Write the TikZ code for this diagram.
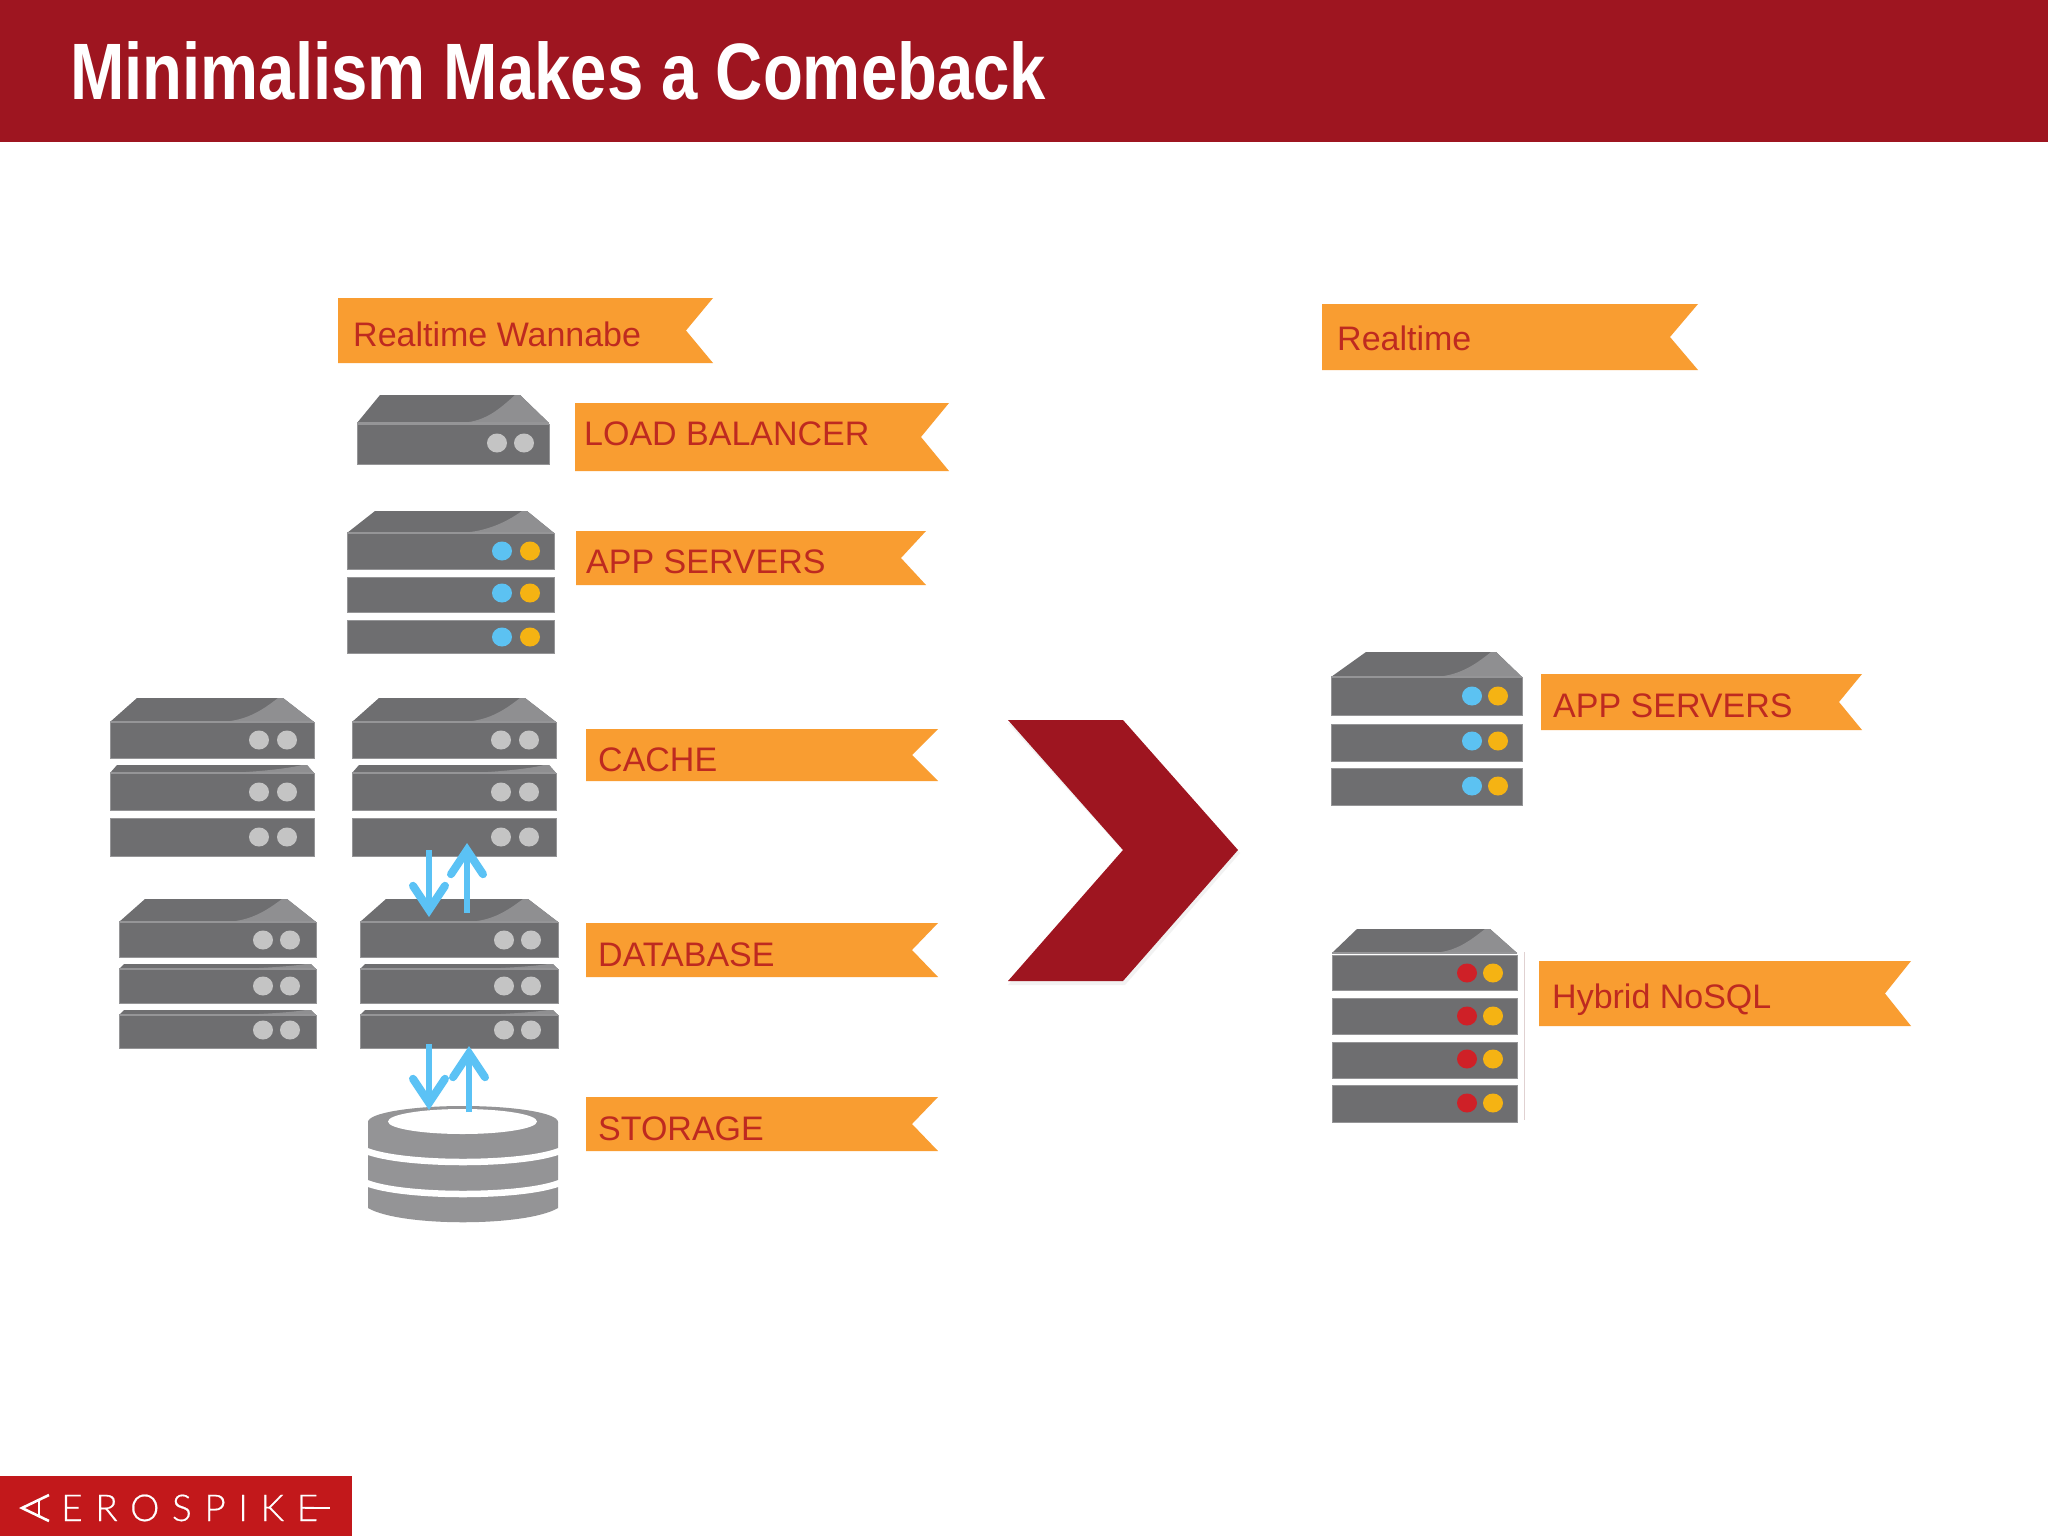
\documentclass[tikz,border=0pt]{standalone}
\usepackage{fontspec}
\setmainfont{Liberation Sans}
\newfontfamily\logofont[LetterSpace=34,FakeBold=0.5]{Lato Light}
\usetikzlibrary{arrows.meta}
\definecolor{barred}{HTML}{9E1520}
\definecolor{logored}{HTML}{C2181B}
\definecolor{ribbonor}{HTML}{F99D31}
\definecolor{ribbontx}{HTML}{BE2A20}
\definecolor{srvdark}{HTML}{6E6E70}
\definecolor{srvlight}{HTML}{8F8F91}
\definecolor{srvedge}{HTML}{959597}
\definecolor{ledgrey}{HTML}{C4C4C4}
\definecolor{ledblue}{HTML}{5CC2F2}
\definecolor{ledamber}{HTML}{F5B313}
\definecolor{ledred}{HTML}{CF2027}
\definecolor{flowblue}{HTML}{5BC2F5}
\definecolor{drumgrey}{HTML}{949496}
\tikzset{
  ribbonfill/.style={fill=ribbonor},
  ribbonlabel/.style={anchor=base west,inner sep=0pt,text=ribbontx,font=\fontsize{34}{40}\selectfont},
  srvbody/.style={fill=srvdark,draw=srvedge,line width=0.8pt},
  flowarrow/.style={draw=flowblue,line width=5.5pt,-{Straight Barb[length=24pt,width=32pt,line width=8pt,line cap=round]}},
}
% ribbon: name, x1, x2, notch x, y1, y2, text x, baseline y, text
\newcommand\ribbon[9]{%
  \fill[ribbonfill] (#2,#5) -- (#3,#5) -- (#4,{(#5+#6)/2}) -- (#3,#6) -- (#2,#6) -- cycle;
  \node[ribbonlabel] (#1) at (#7,#8) {#9};}
% unit body: x1, x2, y1, y2
\newcommand\unitbox[4]{\fill[srvbody] (#1,#3) rectangle (#2,#4);}
% sloped lid: x1, x2, xt1, xt2, yt, yb
\newcommand\lid[6]{%
  \fill[srvdark] (#1,#6) -- (#3,#5) -- (#4,#5) -- (#2,#6) -- cycle;
  \fill[srvlight] ({#4-5},#5) -- (#4,#5) -- (#2,#6) -- ({#1+0.52*(#2-#1)},#6)
     .. controls ({#1+0.66*(#2-#1)},#6) and ({#4-22},{#5+0.55*(#6-#5)}) .. ({#4-5},#5) -- cycle;
  \draw[srvedge,line width=2pt] (#1,#6) -- (#2,#6);}
% pair of lamps: x left, x right, y, colour left, colour right
\newcommand\lamps[5]{%
  \fill[#4] (#1,#3) ellipse [x radius=10,y radius=9.5];
  \fill[#5] (#2,#3) ellipse [x radius=10,y radius=9.5];}
\begin{document}
\begin{tikzpicture}[x=1pt,y=-1pt]
\useasboundingbox (0,0) rectangle (2048,1536);
\fill[white] (0,0) rectangle (2048,1536);
% title bar
\fill[barred] (0,0) rectangle (2048,142);
\node[anchor=base west,inner sep=0pt,text=white,font=\bfseries\fontsize{80}{90}\selectfont] (title) at (70,100) {\scalebox{0.816}[1]{Minimalism Makes a Comeback}};
% ribbons
\ribbon{rwanna}{338}{713}{686}{298}{363}{353}{346}{Realtime Wannabe}
\ribbon{rlb}{575}{949}{921}{403}{471}{584}{445}{LOAD BALANCER}
\ribbon{rapp}{576}{926}{901}{531}{585}{586}{573}{APP SERVERS}
\ribbon{rcache}{586}{938}{912}{729}{781}{598}{771}{CACHE}
\ribbon{rdb}{586}{938}{912}{923}{977}{598}{966}{DATABASE}
\ribbon{rstore}{586}{938}{912}{1097}{1151}{598}{1140}{STORAGE}
\ribbon{rreal}{1322}{1698}{1670}{304}{370}{1337}{350}{Realtime}
\ribbon{rappr}{1541}{1862}{1839}{674}{730}{1553}{717}{APP SERVERS}
\ribbon{rhyb}{1539}{1911}{1885}{961}{1026}{1552}{1008}{Hybrid NoSQL}
% load balancer
\unitbox{357}{549}{424}{464}
\lid{357}{549}{380}{520}{395}{423}
\lamps{497}{524}{443}{ledgrey}{ledgrey}
% app servers, left
\unitbox{347}{554}{533}{569}\unitbox{347}{554}{577}{612}\unitbox{347}{554}{620}{653}
\lid{347}{554}{375}{527}{511}{533}
\lamps{502}{530}{551}{ledblue}{ledamber}
\lamps{502}{530}{593}{ledblue}{ledamber}
\lamps{502}{530}{637}{ledblue}{ledamber}
% cache, left column
\unitbox{110}{314}{722}{758}\unitbox{110}{314}{773}{810}\unitbox{110}{314}{818}{856}
\lid{110}{314}{137}{283}{698}{722}
\lid{110}{314}{117}{307}{765}{773}
\lamps{259}{287}{740}{ledgrey}{ledgrey}
\lamps{259}{287}{792}{ledgrey}{ledgrey}
\lamps{259}{287}{837}{ledgrey}{ledgrey}
% cache, right column
\unitbox{352}{556}{722}{758}\unitbox{352}{556}{773}{810}\unitbox{352}{556}{818}{856}
\lid{352}{556}{379}{525}{698}{722}
\lid{352}{556}{359}{549}{765}{773}
\lamps{501}{529}{740}{ledgrey}{ledgrey}
\lamps{501}{529}{792}{ledgrey}{ledgrey}
\lamps{501}{529}{837}{ledgrey}{ledgrey}
% database, left column
\unitbox{119}{316}{922}{957}\unitbox{119}{316}{969}{1003}\unitbox{119}{316}{1015}{1048}
\lid{119}{316}{145}{287}{899}{922}
\lid{119}{316}{124}{311}{964}{969}
\lid{119}{316}{124}{311}{1010}{1015}
\lamps{263}{290}{940}{ledgrey}{ledgrey}
\lamps{263}{290}{986}{ledgrey}{ledgrey}
\lamps{263}{290}{1030}{ledgrey}{ledgrey}
% database, right column
\unitbox{360}{558}{922}{957}\unitbox{360}{558}{969}{1003}\unitbox{360}{558}{1015}{1048}
\lid{360}{558}{386}{528}{899}{922}
\lid{360}{558}{365}{553}{964}{969}
\lid{360}{558}{365}{553}{1010}{1015}
\lamps{504}{531}{940}{ledgrey}{ledgrey}
\lamps{504}{531}{986}{ledgrey}{ledgrey}
\lamps{504}{531}{1030}{ledgrey}{ledgrey}
% storage drum
\fill[drumgrey] (368,1122) -- (368,1208) .. controls (400,1227) and (526,1227) .. (558,1208) -- (558,1122) -- cycle;
\fill[drumgrey] (463,1122) ellipse [x radius=95,y radius=16];
\fill[white] (462.5,1121.5) ellipse [x radius=74.5,y radius=12.5];
\draw[white,line width=6.5pt] (364,1150) .. controls (400,1166) and (526,1166) .. (562,1150);
\draw[white,line width=6.5pt] (364,1182) .. controls (400,1198) and (526,1198) .. (562,1182);
% arrows between tiers
\coordinate (cachedown) at (429,850);
\coordinate (dbin) at (429,917);
\coordinate (dbup) at (467,913);
\coordinate (cacheup) at (467,843);
\coordinate (dbdown) at (429,1044);
\coordinate (drumin) at (429,1110);
\coordinate (drumup) at (469,1112);
\coordinate (dbinup) at (469,1046);
\draw[flowarrow] (cachedown) -- (dbin);
\draw[flowarrow] (dbup) -- (cacheup);
\draw[flowarrow] (dbdown) -- (drumin);
\draw[flowarrow] (drumup) -- (dbinup);
% chevron with its faint shadow
\fill[black!5] (1008,723) -- (1125,723) -- (1240,853) -- (1125,985) -- (1008,985) -- (1125,853) -- cycle;
\fill[barred] (1008,720) -- (1123,720) -- (1238,850) -- (1123,981) -- (1008,981) -- (1123,850) -- cycle;
% app servers, right
\unitbox{1331}{1522}{677}{715}\unitbox{1331}{1522}{724}{761}\unitbox{1331}{1522}{768}{805}
\lid{1331}{1522}{1366}{1496}{652}{677}
\lamps{1472}{1498}{696}{ledblue}{ledamber}
\lamps{1472}{1498}{741}{ledblue}{ledamber}
\lamps{1472}{1498}{786}{ledblue}{ledamber}
% hybrid server
\unitbox{1332}{1517}{955}{990}\unitbox{1332}{1517}{998}{1034}\unitbox{1332}{1517}{1042}{1078}\unitbox{1332}{1517}{1085}{1122}
\lid{1332}{1517}{1357}{1490}{929}{953}
\lamps{1467}{1493}{973}{ledred}{ledamber}
\lamps{1467}{1493}{1016}{ledred}{ledamber}
\lamps{1467}{1493}{1059}{ledred}{ledamber}
\lamps{1467}{1493}{1103}{ledred}{ledamber}
\draw[red!20!gray!30,line width=1pt] (1524,952) -- (1524,1120);
% logo
\fill[logored] (0,1476) rectangle (352,1536);
\draw[white,line width=2.6pt,line join=miter] (49,1495) -- (22,1508) -- (49,1521);
\draw[white,line width=2.6pt] (39,1499) -- (39,1517);
\node[anchor=base west,inner sep=0pt,text=white,font=\logofont\fontsize{37}{40}\selectfont] (logotext) at (61,1521) {EROSPIKE};
\draw[white,line width=2.6pt] (305,1508) -- (330,1508);
\end{tikzpicture}
\end{document}
